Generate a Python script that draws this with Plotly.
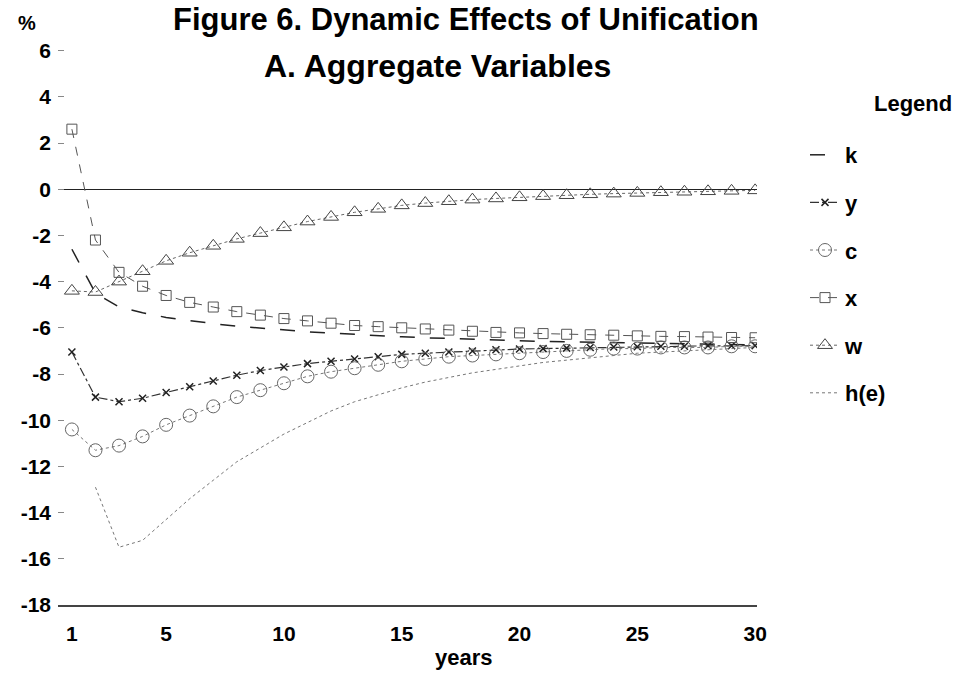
import plotly.graph_objects as go

years = list(range(1, 31))

k_vals = [-2.6, -4.5, -5.1, -5.35, -5.55, -5.7, -5.82, -5.93, -6.02, -6.1,
          -6.17, -6.23, -6.29, -6.34, -6.39, -6.43, -6.47, -6.5, -6.53, -6.56,
          -6.59, -6.61, -6.63, -6.65, -6.67, -6.69, -6.7, -6.72, -6.73, -6.74]
y_vals = [-7.05, -9.0, -9.2, -9.05, -8.8, -8.55, -8.3, -8.05, -7.85, -7.7,
          -7.55, -7.45, -7.35, -7.25, -7.15, -7.1, -7.05, -7.0, -6.95, -6.92,
          -6.9, -6.88, -6.85, -6.83, -6.82, -6.8, -6.8, -6.78, -6.78, -6.77]
c_vals = [-10.4, -11.3, -11.1, -10.7, -10.2, -9.8, -9.4, -9.0, -8.7, -8.4,
          -8.1, -7.9, -7.75, -7.6, -7.45, -7.35, -7.25, -7.2, -7.15, -7.1,
          -7.05, -7.0, -6.95, -6.9, -6.9, -6.85, -6.85, -6.85, -6.8, -6.8]
x_vals = [2.6, -2.2, -3.6, -4.2, -4.6, -4.9, -5.1, -5.3, -5.45, -5.6,
          -5.7, -5.8, -5.9, -5.95, -6.0, -6.05, -6.1, -6.15, -6.2, -6.22,
          -6.25, -6.28, -6.3, -6.32, -6.35, -6.37, -6.38, -6.4, -6.42, -6.43]
w_vals = [-4.4, -4.45, -4.0, -3.55, -3.1, -2.75, -2.45, -2.15, -1.9, -1.65,
          -1.4, -1.2, -1.0, -0.85, -0.7, -0.6, -0.52, -0.45, -0.4, -0.35,
          -0.3, -0.26, -0.22, -0.19, -0.16, -0.13, -0.11, -0.09, -0.07, -0.05]
he_vals = [None, -12.9, -15.5, -15.2, -14.3, -13.4, -12.6, -11.8, -11.2, -10.6,
           -10.1, -9.6, -9.2, -8.9, -8.6, -8.35, -8.15, -7.95, -7.8, -7.65,
           -7.5, -7.4, -7.3, -7.2, -7.1, -7.05, -7.0, -6.95, -6.9, -6.85]

y_ticks = [6, 4, 2, 0, -2, -4, -6, -8, -10, -12, -14, -16, -18]
x_ticks = [1, 5, 10, 15, 20, 25, 30]

FONT = "Arial, Liberation Sans, sans-serif"

series = [
    ("k", k_vals, dict(color="#222", width=1.5, dash="longdash"), None),
    ("y", y_vals, dict(color="#333", width=1.2, dash="dashdot"),
     dict(symbol="x-thin-open", size=7, color="#222", line=dict(width=1.5, color="#222"))),
    ("c", c_vals, dict(color="#777", width=1, dash="dot"),
     dict(symbol="circle-open", size=13, color="#666", line=dict(width=1, color="#666"))),
    ("x", x_vals, dict(color="#555", width=1, dash="dash"),
     dict(symbol="square-open", size=10, color="#555", line=dict(width=1, color="#555"))),
    ("w", w_vals, dict(color="#666", width=1, dash="dot"),
     dict(symbol="triangle-up-open", size=13, color="#444", line=dict(width=1, color="#444"))),
    ("h(e)", he_vals, dict(color="#777", width=1, dash="dot"), None),
]

fig = go.Figure()
for name, vals, ln, mk in series:
    fig.add_trace(go.Scatter(
        x=years, y=vals, name=name, legendgroup=name,
        mode="lines+markers" if mk else "lines",
        line=ln, marker=mk, connectgaps=False,
    ))

L, R, T, B = 58, 204, 46, 68
PW, PH = 961 - L - R, 673 - T - B


def px(xp):
    return (xp - L) / PW


def py(yp):
    return 1 - (yp - T) / PH


fig.update_layout(
    width=961, height=673,
    margin=dict(l=L, r=R, t=T, b=B),
    paper_bgcolor="white", plot_bgcolor="white",
    font=dict(family=FONT, color="black"),
    showlegend=True,
    legend=dict(
        x=px(805), xanchor="left", y=py(134), yanchor="top",
        font=dict(size=22, family=FONT, weight="bold"),
        tracegroupgap=16, itemwidth=30,
        bgcolor="rgba(0,0,0,0)",
    ),
    xaxis=dict(
        range=[0.41, 30.08], tickvals=x_ticks, ticktext=[str(v) for v in x_ticks],
        showgrid=False, zeroline=False, showline=True, linecolor="#444", linewidth=1.5,
        ticks="", tickfont=dict(size=21, family=FONT, weight="bold"),
        ticklabelstandoff=9,
    ),
    yaxis=dict(
        range=[-18, 6.2], tickvals=y_ticks, ticktext=[str(v) for v in y_ticks],
        showgrid=False, zeroline=True, zerolinecolor="#222", zerolinewidth=1,
        showline=False, ticks="inside", ticklen=6, tickcolor="#888",
        tickfont=dict(size=21, family=FONT, weight="bold"),
        ticklabelstandoff=6,
    ),
    annotations=[
        dict(text="Figure 6. Dynamic Effects of Unification", xref="paper", yref="paper",
             x=px(466), y=py(0), xanchor="center", yanchor="top",
             showarrow=False, font=dict(size=31, family=FONT, weight="bold")),
        dict(text="A. Aggregate Variables", xref="paper", yref="paper",
             x=px(438), y=py(66), xanchor="center", yanchor="middle",
             showarrow=False, font=dict(size=32, family=FONT, weight="bold")),
        dict(text="%", xref="paper", yref="paper",
             x=px(27), y=py(23), xanchor="center", yanchor="middle",
             showarrow=False, font=dict(size=20, family=FONT, weight="bold")),
        dict(text="years", xref="paper", yref="paper",
             x=px(464), y=py(657), xanchor="center", yanchor="middle",
             showarrow=False, font=dict(size=22, family=FONT, weight="bold")),
        dict(text="Legend", xref="paper", yref="paper",
             x=px(913), y=py(103), xanchor="center", yanchor="middle",
             showarrow=False, font=dict(size=22, family=FONT, weight="bold")),
    ],
)

fig.write_html("out.html")
